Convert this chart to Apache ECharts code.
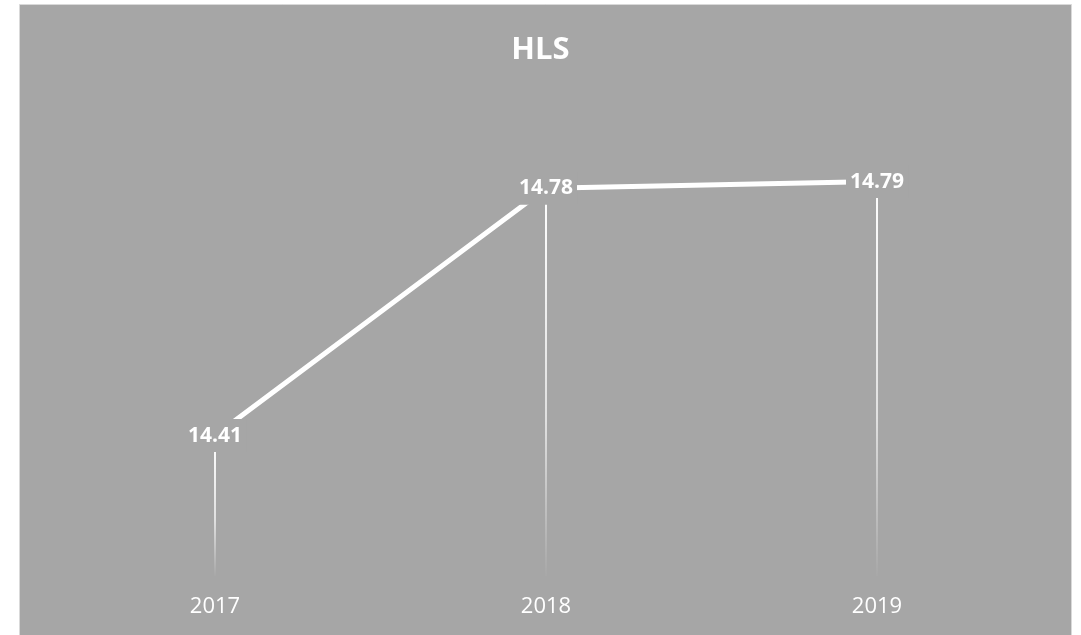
<!DOCTYPE html>
<html>
<head>
<meta charset="utf-8">
<script src="https://cdn.jsdelivr.net/npm/echarts@6/dist/echarts.min.js"></script>
<style>
html,body{margin:0;padding:0;background:#fff;}
#chart{width:1081px;height:635px;}
</style>
</head>
<body>
<div id="chart"></div>
<script>
var titleText = 'HLS';
var categories = ['2017', '2018', '2019'];
var values = [14.41, 14.78, 14.79];

var chart = echarts.init(document.getElementById('chart'));
var bg = '#a6a6a6';
chart.setOption({
  backgroundColor: '#ffffff',
  animation: false,
  graphic: [{
    type: 'rect', z: -10, silent: true,
    shape: {x: 19.5, y: 4.5, width: 1052, height: 640},
    style: {fill: bg, stroke: '#d9d9d9', lineWidth: 1}
  }],
  title: {
    text: titleText, left: 'center', top: 30,
    textStyle: {color: '#ffffff', fontSize: 31, fontWeight: 'bold', fontFamily: 'Open Sans'}
  },
  grid: {left: 49.5, right: 38.5, top: 108, bottom: 59},
  xAxis: {
    type: 'category', data: categories, boundaryGap: true,
    axisLine: {show: false}, axisTick: {show: false},
    axisLabel: {color: '#ffffff', fontSize: 22, fontFamily: 'Open Sans', margin: 20}
  },
  yAxis: {
    type: 'value', min: 14.2, max: 14.9, show: false,
    splitLine: {show: false}
  },
  series: [{
    type: 'bar', data: values, barWidth: 2, z: 1, silent: true,
    itemStyle: {
      color: new echarts.graphic.LinearGradient(0, 0, 0, 1, [
        {offset: 0, color: 'rgba(255,255,255,1)'},
        {offset: 0.6, color: 'rgba(255,255,255,0.65)'},
        {offset: 1, color: 'rgba(255,255,255,0.02)'}
      ])
    }
  }, {
    type: 'line', data: values, z: 3,
    symbol: 'circle', symbolSize: 1,
    itemStyle: {color: '#ffffff'},
    lineStyle: {color: '#ffffff', width: 5},
    label: {
      show: true, position: 'inside',
      color: '#ffffff', fontSize: 21, fontWeight: 'bold', fontFamily: 'Open Sans',
      backgroundColor: bg, padding: [6, 4],
      formatter: function (p) { return p.value.toFixed(2); }
    }
  }]
});
</script>
</body>
</html>
